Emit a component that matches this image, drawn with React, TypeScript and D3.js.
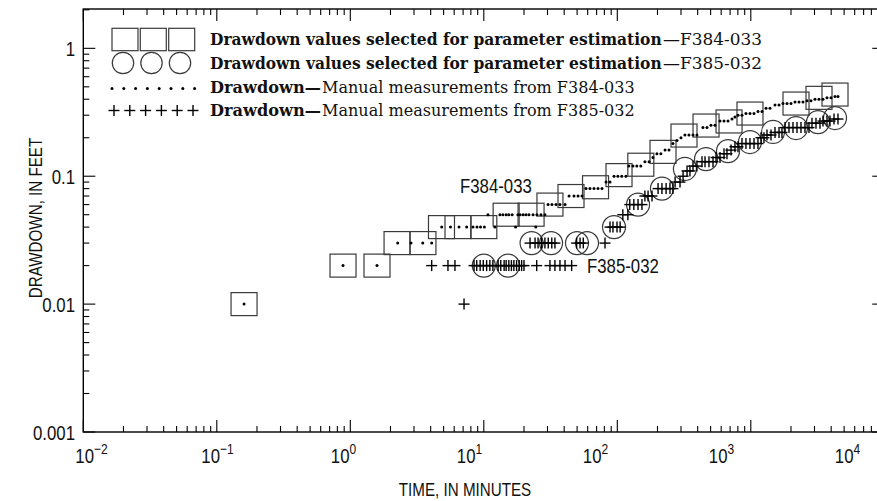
import React, { useEffect, useLayoutEffect, useRef, useState } from 'react';
import * as d3 from 'd3';

// ---------- DATA ----------
// Y tick labels (drawdown, feet) and X decade exponents (time, minutes)
const yTickValues = [0.001, 0.01, 0.1, 1];
const yTickLabels = ['0.001', '0.01', '0.1', '1'];
const xDecadeExponents = [-2, -1, 0, 1, 2, 3, 4];

// F384-033: drawdown values selected for parameter estimation (squares)
const f384SelTime = [0.16, 0.882, 1.585, 2.24, 3.5, 4.82, 6.41, 10.0, 14.7, 22.6, 31.3, 45.0, 68.7, 103, 150, 220, 316, 462, 687, 986, 2181, 3243, 4273];
const f384SelDD = [0.01, 0.02, 0.02, 0.03, 0.03, 0.04, 0.04, 0.04, 0.05, 0.05, 0.06, 0.07, 0.082, 0.102, 0.123, 0.155, 0.208, 0.249, 0.268, 0.309, 0.37, 0.41, 0.435];

// F385-032: drawdown values selected for parameter estimation (circles)
const f385SelTime = [10.0, 15.2, 22.8, 31.9, 49.9, 59.3, 94.5, 143, 216, 321, 462, 675, 986, 1467, 2181, 3188, 4273];
const f385SelDD = [0.02, 0.02, 0.03, 0.03, 0.03, 0.03, 0.04, 0.06, 0.08, 0.114, 0.136, 0.157, 0.185, 0.222, 0.238, 0.265, 0.285];

// F384-033: manual measurements (dots)
const f384Time = [
  0.16,
  0.882, 1.585,
  2.265, 2.85, 3.49, 4.07,
  4.84, 5.63, 6.52, 7.44, 8.3, 8.89, 9.45, 10.1, 12.1, 17.3, 24.5,
  10.75, 13.2, 13.9, 14.7, 15.4, 16.3, 18.0, 18.7, 19.7, 20.7, 21.8, 23.4, 25.0, 26.8, 28.7,
  30.3, 32.4, 34.7, 37.2, 40.6,
  43.5, 47.4, 50.8, 54.4,
  58.3, 62.4, 66.9, 71.7, 76.8,
  82.3, 88.2,
  94.5, 101, 108, 116,
  122, 131, 140, 150,
  161, 173,
  185,
  198, 212,
  228, 244,
  261, 280, 300,
  321, 344, 369, 395,
  438, 470,
  503, 539,
  588, 630, 675,
  723, 761,
  802, 859,
  920, 986, 1057,
  1132, 1213,
  1300, 1392,
  1518, 1627,
  1743, 1867, 2000,
  2143, 2296, 2460,
  2636, 2823,
  3025, 3242, 3473,
  3721, 3986,
  4272, 4499,
];
const f384DD = [
  0.01,
  0.02, 0.02,
  0.03, 0.03, 0.03, 0.03,
  0.04, 0.04, 0.04, 0.04, 0.04, 0.04, 0.04, 0.04, 0.04, 0.04, 0.04,
  0.05, 0.05, 0.05, 0.05, 0.05, 0.05, 0.05, 0.05, 0.05, 0.05, 0.05, 0.05, 0.05, 0.05, 0.05,
  0.06, 0.06, 0.06, 0.06, 0.06,
  0.07, 0.07, 0.07, 0.07,
  0.08, 0.08, 0.08, 0.08, 0.08,
  0.09, 0.09,
  0.10, 0.10, 0.10, 0.10,
  0.12, 0.12, 0.12, 0.12,
  0.13, 0.13,
  0.14,
  0.15, 0.15,
  0.16, 0.16,
  0.18, 0.19, 0.20,
  0.21, 0.21, 0.21, 0.21,
  0.24, 0.24,
  0.25, 0.25,
  0.27, 0.27, 0.27,
  0.28, 0.29,
  0.30, 0.30,
  0.31, 0.31, 0.31,
  0.32, 0.32,
  0.34, 0.34,
  0.36, 0.36,
  0.37, 0.37, 0.37,
  0.38, 0.38, 0.38,
  0.39, 0.39,
  0.40, 0.40, 0.40,
  0.41, 0.41,
  0.42, 0.42,
];

// F385-032: manual measurements (crosses)
const f385Time = [
  7.11,
  4.07, 5.39, 6.08, 8.45, 8.85, 9.39, 9.91, 10.5, 11.1, 11.7, 12.8, 13.4, 14.2, 14.7, 15.4, 16.1, 16.8, 17.6, 18.4, 19.2, 20.0, 24.9, 31.3, 34.1, 37.2, 40.6, 45.5,
  22.2, 24.2, 25.5, 27.1, 28.7, 30.4, 32.3, 34.1, 49.6, 52.6, 55.6, 80.9,
  88.2, 92.8, 99.5, 105,
  110, 120,
  124, 133, 143, 153,
  161, 170, 182,
  202, 216, 232, 248, 261,
  271, 295,
  311,
  333, 350,
  369, 395,
  431, 454, 486, 521,
  549, 588,
  630, 663,
  711,
  761, 802,
  859, 920, 986, 1057, 1132,
  1192, 1255,
  1322, 1417,
  1518, 1627, 1712,
  1804, 1932, 2070, 2218, 2376, 2546, 2728,
  2873, 3078, 3298,
  3473, 3721, 3918,
  4200, 4499,
];
const f385DD = [
  0.01,
  0.02, 0.02, 0.02, 0.02, 0.02, 0.02, 0.02, 0.02, 0.02, 0.02, 0.02, 0.02, 0.02, 0.02, 0.02, 0.02, 0.02, 0.02, 0.02, 0.02, 0.02, 0.02, 0.02, 0.02, 0.02, 0.02, 0.02,
  0.03, 0.03, 0.03, 0.03, 0.03, 0.03, 0.03, 0.03, 0.03, 0.03, 0.03, 0.03,
  0.04, 0.04, 0.04, 0.04,
  0.05, 0.05,
  0.06, 0.06, 0.06, 0.06,
  0.07, 0.07, 0.07,
  0.08, 0.08, 0.08, 0.08, 0.08,
  0.09, 0.09,
  0.10,
  0.11, 0.11,
  0.12, 0.12,
  0.13, 0.13, 0.13, 0.13,
  0.14, 0.14,
  0.15, 0.15,
  0.16,
  0.17, 0.17,
  0.18, 0.18, 0.18, 0.18, 0.18,
  0.20, 0.20,
  0.21, 0.21,
  0.22, 0.22, 0.22,
  0.24, 0.24, 0.24, 0.24, 0.24, 0.24, 0.24,
  0.26, 0.26, 0.26,
  0.27, 0.27, 0.27,
  0.28, 0.28,
];

// Legend + annotation texts
const legendRows = [
  { bold: 'Drawdown values selected for parameter estimation', regular: '—F384-033', marker: 'square' },
  { bold: 'Drawdown values selected for parameter estimation', regular: '—F385-032', marker: 'circle' },
  { bold: 'Drawdown—', regular: 'Manual measurements from F384-033', marker: 'dot' },
  { bold: 'Drawdown—', regular: 'Manual measurements from F385-032', marker: 'cross' },
];
const annotations = [
  { text: 'F384-033', t: 6.63, d: 0.0739 },
  { text: 'F385-032', t: 59.3, d: 0.0175 },
];

// ---------- LAYOUT ----------
const W = 877;
const H = 501;
const X0 = 83.3, X1 = 884.3, Y0 = 432, Y1 = 9;
const SANS = "'Liberation Sans', Arial, sans-serif";
const SERIF = "'DejaVu Serif', 'Liberation Serif', serif";

const x = d3.scaleLog().domain([0.01, 1e4]).range([X0, X1]);
const y = d3.scaleLog().domain([0.001, 2.03]).range([Y0, Y1]);
// labels of the original figure are spaced slightly tighter than the ticks
const xLabel = d3.scaleLog().domain([0.01, 1e4]).range([91.5, 847.5]);

function minorTicks(lo: number, hi: number, max: number) {
  const out: number[] = [];
  for (let e = lo; e <= hi; e++) {
    for (let k = 2; k <= 9; k++) {
      const v = k * Math.pow(10, e);
      if (v <= max) out.push(v);
    }
  }
  return out;
}

const STROKE = '#3a3a3a';

function CText(props: { x: number; y: number; size: number; anchor?: string; rotate?: number; sx?: number; children: React.ReactNode }) {
  const { x: tx, y: ty, size, anchor = 'start', rotate, sx = 0.8, children } = props;
  const tr = `translate(${tx},${ty})${rotate ? ` rotate(${rotate})` : ''} scale(${sx},1)`;
  return (
    <text transform={tr} fontFamily={SANS} fontSize={size} textAnchor={anchor} fill="#111">
      {children}
    </text>
  );
}

// serif text horizontally scaled to fill an exact width
function FitText(props: { x: number; y: number; width: number; size: number; bold?: boolean; children: string }) {
  const ref = useRef<SVGTextElement>(null);
  const [s, setS] = useState(1);
  useLayoutEffect(() => {
    if (ref.current) {
      const w = ref.current.getComputedTextLength();
      if (w > 0) setS(props.width / w);
    }
  }, [props.width, props.children]);
  return (
    <text ref={ref} transform={`translate(${props.x},${props.y}) scale(${s},1)`} fontFamily={SERIF}
      fontSize={props.size} fontWeight={props.bold ? 'bold' : 'normal'} fill="#111">
      {props.children}
    </text>
  );
}

export default function App() {
  useEffect(() => {
    document.body.style.margin = '0';
  }, []);

  const xMajors = xDecadeExponents.map((e) => Math.pow(10, e));
  const xMinors = minorTicks(-2, 3, 1e4);
  const yMinors = minorTicks(-3, 0, 2.03);

  const f384Sel = f384SelTime.map((t, i) => ({ t, d: f384SelDD[i] }));
  const f385Sel = f385SelTime.map((t, i) => ({ t, d: f385SelDD[i] }));
  const f384 = f384Time.map((t, i) => ({ t, d: f384DD[i] }));
  const f385 = f385Time.map((t, i) => ({ t, d: f385DD[i] }));

  const SQW = 26, SQH = 23, CR = 11.5, CS = 5.5;

  const legendY = [39.5, 63, 87.5, 110.5];
  // [start of bold part, start of regular part, end of text]
  const legendSpans = [
    [210, 663, 762],
    [210, 663, 762],
    [210, 322, 635],
    [210, 322, 635],
  ];

  return (
    <div style={{ position: 'absolute', left: 0, top: 0, width: W, height: H, overflow: 'hidden', background: '#fff' }}>
      <svg width={W} height={H} style={{ display: 'block' }}>
        <rect width={W} height={H} fill="#fff" />
        {/* frame */}
        <rect x={X0} y={Y1} width={X1 - X0} height={Y0 - Y1} fill="none" stroke="#000" strokeWidth={1.4} />
        {/* ticks */}
        <g stroke="#000" strokeWidth={1.1}>
          {xMajors.map((v) => (
            <g key={'xM' + v}>
              <line x1={x(v)} x2={x(v)} y1={Y0} y2={Y0 - 12} />
              <line x1={x(v)} x2={x(v)} y1={Y1} y2={Y1 + 12} />
            </g>
          ))}
          {xMinors.map((v) => (
            <g key={'xm' + v}>
              <line x1={x(v)} x2={x(v)} y1={Y0} y2={Y0 - 6} />
              <line x1={x(v)} x2={x(v)} y1={Y1} y2={Y1 + 6} />
            </g>
          ))}
          {yTickValues.map((v) => (
            <g key={'yM' + v}>
              <line x1={X0} x2={X0 + 12} y1={y(v)} y2={y(v)} />
              <line x1={X1} x2={X1 - 12} y1={y(v)} y2={y(v)} />
            </g>
          ))}
          {yMinors.map((v) => (
            <g key={'ym' + v}>
              <line x1={X0} x2={X0 + 6} y1={y(v)} y2={y(v)} />
              <line x1={X1} x2={X1 - 6} y1={y(v)} y2={y(v)} />
            </g>
          ))}
        </g>
        {/* y tick labels */}
        {yTickValues.map((v, i) => (
          <CText key={'yl' + v} x={75} y={y(v) + 7.5} size={21} anchor="end">{yTickLabels[i]}</CText>
        ))}
        {/* x tick labels */}
        {xDecadeExponents.map((e) => (
          <CText key={'xl' + e} x={xLabel(Math.pow(10, e))} y={463} size={21} anchor="middle">
            10
            <tspan fontSize={15} dy={-9}>{e < 0 ? '\u2212' + Math.abs(e) : String(e)}</tspan>
          </CText>
        ))}
        {/* axis titles */}
        <CText x={465} y={496} size={19} anchor="middle">TIME, IN MINUTES</CText>
        <CText x={42} y={218} size={19} anchor="middle" rotate={-90}>DRAWDOWN, IN FEET</CText>

        {/* data: selected squares & circles */}
        <g fill="none" stroke={STROKE} strokeWidth={1.2}>
          {f384Sel.map((p, i) => (
            <rect key={'sq' + i} x={x(p.t) - SQW / 2} y={y(p.d) - SQH / 2} width={SQW} height={SQH} />
          ))}
          {f385Sel.map((p, i) => (
            <circle key={'ci' + i} cx={x(p.t)} cy={y(p.d)} r={CR} />
          ))}
        </g>
        {/* dots */}
        <g fill="#000">
          {f384.map((p, i) => (
            <circle key={'dt' + i} cx={x(p.t)} cy={y(p.d)} r={1.5} />
          ))}
        </g>
        {/* crosses */}
        <g stroke="#000" strokeWidth={1.4}>
          {f385.map((p, i) => {
            const cx = x(p.t), cy = y(p.d);
            return (
              <g key={'cr' + i}>
                <line x1={cx - CS} x2={cx + CS} y1={cy} y2={cy} />
                <line x1={cx} x2={cx} y1={cy - CS} y2={cy + CS} />
              </g>
            );
          })}
        </g>
        {/* annotations */}
        {annotations.map((a) => (
          <CText key={a.text} x={x(a.t)} y={y(a.d)} size={21}>{a.text}</CText>
        ))}

        {/* legend */}
        <g>
          {legendRows.map((r, i) => {
            const cy = legendY[i];
            const [b0, r0, e0] = legendSpans[i];
            let marker: React.ReactNode = null;
            if (r.marker === 'square') {
              marker = [125, 153.3, 181.7].map((cx) => (
                <rect key={cx} x={cx - 13} y={cy - 11.2} width={26} height={22.4} fill="none" stroke={STROKE} strokeWidth={1.2} />
              ));
            } else if (r.marker === 'circle') {
              marker = [123, 151.5, 180].map((cx) => (
                <circle key={cx} cx={cx} cy={cy} r={10.7} fill="none" stroke={STROKE} strokeWidth={1.2} />
              ));
            } else if (r.marker === 'dot') {
              marker = d3.range(8).map((k) => (
                <circle key={k} cx={112 + k * 11.8} cy={cy + 1} r={1.5} fill="#000" />
              ));
            } else {
              marker = d3.range(6).map((k) => {
                const cx = 114 + k * 15.8;
                return (
                  <g key={k} stroke="#000" strokeWidth={1.4}>
                    <line x1={cx - CS} x2={cx + CS} y1={cy} y2={cy} />
                    <line x1={cx} x2={cx} y1={cy - CS} y2={cy + CS} />
                  </g>
                );
              });
            }
            return (
              <g key={'lg' + i}>
                {marker}
                <FitText x={b0} y={cy + 5.8} width={r0 - b0 - 1} size={16.5} bold>{r.bold}</FitText>
                <FitText x={r0} y={cy + 5.8} width={e0 - r0} size={16.5}>{r.regular}</FitText>
              </g>
            );
          })}
        </g>
      </svg>
    </div>
  );
}
